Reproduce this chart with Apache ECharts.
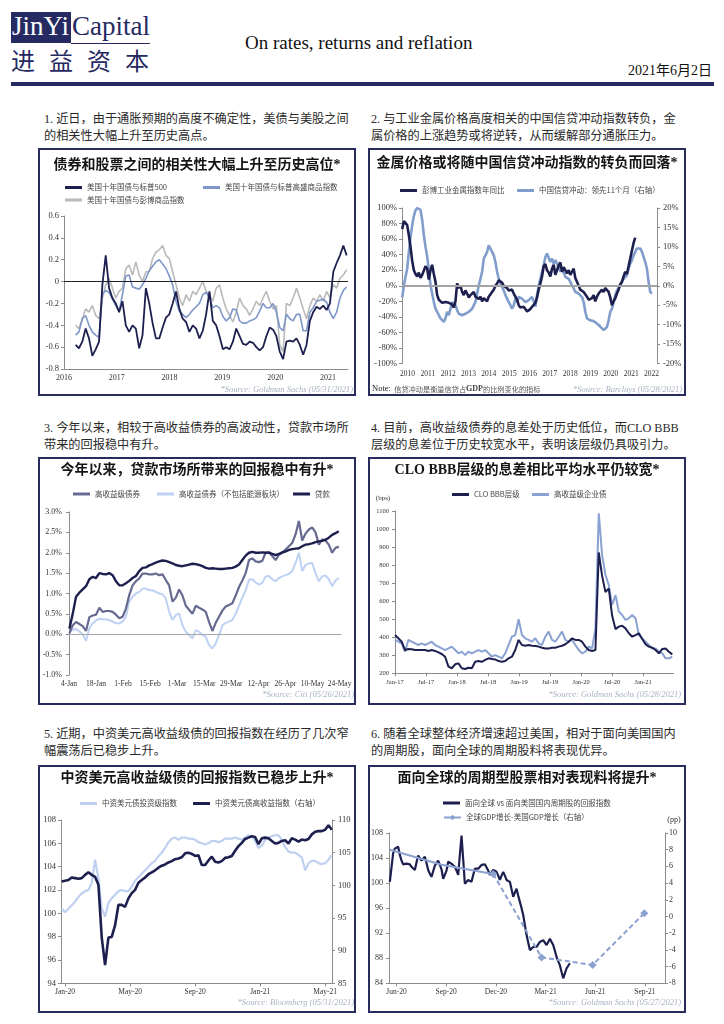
<!DOCTYPE html>
<html><head><meta charset="utf-8">
<script src="https://cdn.jsdelivr.net/npm/echarts@6/dist/echarts.min.js"></script>
<style>
html,body{margin:0;padding:0;background:#fff;}
body{width:724px;height:1024px;position:relative;overflow:hidden;font-family:"Liberation Serif","Noto Sans CJK SC",serif;}
.panel{position:absolute;border:2px solid #272b5e;box-sizing:border-box;background:#fff;width:318px;height:248px;}
.cap{position:absolute;font-size:12.2px;line-height:16.5px;color:#2a2a2a;white-space:nowrap;font-family:"Liberation Serif","Noto Sans CJK SC",serif;}
#chart{position:absolute;left:0;top:0;width:724px;height:1024px;z-index:2;}
</style></head><body>
<div style="position:absolute;left:11px;top:12px;width:60px;height:31px;background:#262a62;"></div>
<div style="position:absolute;left:12px;top:9px;font-size:27px;line-height:34px;color:#fff;font-family:'Liberation Serif';">JinYi</div>
<div style="position:absolute;left:72px;top:9px;font-size:27px;line-height:34px;color:#262a62;font-family:'Liberation Serif';">Capital</div>
<div style="position:absolute;left:71px;top:43px;width:79px;height:1px;background:#262a62;"></div>
<div style="position:absolute;left:11px;top:46px;font-size:24px;line-height:28px;color:#262a62;letter-spacing:14px;font-family:'Noto Sans CJK SC';">进益资本</div>
<div style="position:absolute;left:11px;top:82px;width:703px;height:4px;background:#262a62;"></div>
<div style="position:absolute;left:245px;top:31px;font-size:19px;line-height:24px;color:#111;font-family:'Liberation Serif';">On rates, returns and reflation</div>
<div style="position:absolute;right:12px;top:63px;font-size:14px;line-height:16px;color:#111;font-family:'Liberation Serif','Noto Sans CJK SC';">2021年6月2日</div>

<div class="cap" style="left:44px;top:111px">1. 近日，由于通胀预期的高度不确定性，美债与美股之间<br>的相关性大幅上升至历史高点。</div>
<div class="cap" style="left:371px;top:111px">2. 与工业金属价格高度相关的中国信贷冲动指数转负，金<br>属价格的上涨趋势或将逆转，从而缓解部分通胀压力。</div>
<div class="cap" style="left:44px;top:420px">3. 今年以来，相较于高收益债券的高波动性，贷款市场所<br>带来的回报稳中有升。</div>
<div class="cap" style="left:371px;top:420px">4. 目前，高收益级债券的息差处于历史低位，而CLO BBB<br>层级的息差位于历史较宽水平，表明该层级仍具吸引力。</div>
<div class="cap" style="left:44px;top:726px">5. 近期，中资美元高收益级债的回报指数在经历了几次窄<br>幅震荡后已稳步上升。</div>
<div class="cap" style="left:371px;top:726px">6. 随着全球整体经济增速超过美国，相对于面向美国国内<br>的周期股，面向全球的周期股料将表现优异。</div>

<div class="panel" style="left:38px;top:148px"></div>
<div class="panel" style="left:368px;top:148px"></div>
<div class="panel" style="left:38px;top:457px"></div>
<div class="panel" style="left:368px;top:457px"></div>
<div class="panel" style="left:38px;top:765px"></div>
<div class="panel" style="left:368px;top:765px"></div>
<div id="chart"></div>
<script>
// ---------- DATA ----------
// Chart 1: correlation (2016.22 .. 2021.355, evenly spaced)
const c1Spx = [-0.58,-0.61,-0.55,-0.43,-0.52,-0.68,-0.62,-0.55,-0.03,0.24,
 -0.06,-0.15,-0.20,-0.28,-0.18,-0.40,-0.46,-0.40,-0.43,-0.61,
 -0.49,-0.06,-0.20,-0.38,-0.52,-0.52,-0.42,-0.33,-0.30,-0.20,
 -0.09,-0.25,-0.34,-0.37,-0.46,-0.40,-0.43,-0.52,-0.45,-0.30,
 -0.09,-0.36,-0.40,-0.50,-0.62,-0.60,-0.62,-0.55,-0.43,-0.50,
 -0.57,-0.58,-0.55,-0.56,-0.60,-0.63,-0.60,-0.50,-0.42,-0.44,
 -0.50,-0.64,-0.71,-0.55,-0.54,-0.55,-0.52,-0.58,-0.67,-0.58,
 -0.36,-0.28,-0.23,-0.25,-0.22,-0.26,-0.20,0.09,0.17,0.24,
 0.33,0.24];
const c1Gsci = [-0.49,-0.46,-0.34,-0.31,-0.40,-0.46,-0.49,-0.51,-0.12,-0.08,
 -0.10,-0.16,-0.22,-0.27,-0.12,0.05,0.06,-0.05,-0.06,-0.07,
 -0.03,0.03,0.10,0.14,0.18,0.20,0.16,0.12,0.05,-0.03,
 -0.18,-0.27,-0.30,-0.33,-0.30,-0.26,-0.23,-0.20,-0.12,-0.10,
 -0.15,-0.24,-0.22,-0.24,-0.32,-0.36,-0.33,-0.25,-0.26,-0.36,
 -0.38,-0.38,-0.36,-0.35,-0.33,-0.27,-0.20,-0.24,-0.24,-0.20,
 -0.28,-0.42,-0.45,-0.30,-0.34,-0.36,-0.30,-0.30,-0.45,-0.45,
 -0.28,-0.24,-0.18,-0.17,-0.16,-0.19,-0.28,-0.34,-0.28,-0.15,
 -0.08,-0.05];
const c1Bcom = [-0.40,-0.43,-0.34,-0.25,-0.28,-0.22,-0.31,-0.34,-0.15,-0.03,
 0.03,-0.06,-0.15,-0.09,-0.06,0.12,0.15,0.06,0.18,0.06,
 0.00,0.09,0.09,0.21,0.27,0.29,0.33,0.24,0.21,0.09,
 -0.03,-0.15,-0.22,-0.12,-0.18,-0.09,-0.12,-0.06,0.00,-0.09,
 -0.12,-0.18,-0.06,-0.03,-0.15,-0.25,-0.31,-0.37,-0.28,-0.15,
 -0.22,-0.25,-0.31,-0.25,-0.18,-0.22,-0.15,-0.09,-0.18,-0.25,
 -0.22,-0.58,-0.64,-0.20,-0.22,-0.15,-0.06,-0.15,-0.25,-0.34,
 -0.22,-0.15,-0.18,-0.12,-0.18,-0.09,-0.15,-0.03,-0.06,0.03,
 0.06,0.11];
const c1Span = [2016.22, 2021.355];

// Chart 2: metals YoY (%) 2009.74..2021.20 ; credit impulse (%) 2009.74..2022.02
const c2Metals = [73,83,81,78,65,50,32,20,15,12,
 17,10,14,12,25,22,8,20,27,15,
 5,-12,-18,-17,-22,-20,-21,-23,-22,-20,
 -24,-28,-20,3,-3,0,-8,-12,-6,-10,
 -15,-12,-10,-8,-14,-12,-17,-14,-20,-16,
 -18,-20,-14,-12,-8,-5,0,3,7,6,
 4,0,1,-3,-6,-8,-5,-10,-14,-18,
 -25,-28,-30,-27,-30,-33,-35,-30,-27,-25,
 -22,-15,-5,3,12,25,28,20,17,12,
 22,27,14,20,26,30,18,24,22,16,
 20,14,18,22,10,5,0,-5,-3,-8,
 -10,-14,-18,-20,-16,-12,-20,-14,-10,-12,
 -5,-8,-3,-2,-8,-15,-25,-20,-16,-10,
 -5,2,5,12,18,15,25,35,45,55,
 62];
const c2Credit = [-3,0,2.3,4.4,8.7,12.5,15.5,18,19.4,20,
 20,19.5,17,13,10,7.5,4,0.1,-2,-4.2,
 -5.9,-6.7,-7.6,-8.4,-8.9,-9.3,-8.4,-6.7,-7.6,-5.9,
 -4.2,-4.5,-5,-6.3,-7.2,-7.4,-7.6,-7.4,-7.2,-7,
 -6.7,-6.3,-5.9,-5,-4.2,-2,0.1,1.8,3.6,7,
 7.8,8.7,10.4,10.8,8.7,7.8,6.1,3.6,1.8,0.6,
 0.1,-1.2,-2.4,-3.3,-4.2,-5,-5.9,-5,-3.3,-4.2,
 -2.9,-3.1,-3.3,-3.8,-4.2,-4,-3.7,-3.3,-2.9,-4,
 -5.4,-2.4,0.1,1.8,3.6,5.3,7.4,8.3,7.8,6.1,
 7,5.7,6.6,7,4.8,3.6,4.4,4,2.3,2,
 1.8,1,0.1,-0.7,-1.6,-1.8,-2,-2.4,-2.9,-4.2,
 -6.7,-8.4,-8.9,-8.9,-8.9,-9.1,-9.3,-9.7,-10.1,-10.5,
 -11,-11.4,-11.4,-10.6,-8.9,-6.7,-5.9,-4.2,-2.4,-1.2,
 -0.7,0.1,1,1.8,2.3,2.7,4.4,5.7,6.6,7.8,
 8.7,9.6,10,9.6,8.7,7.4,6.1,4.4,1,-1.6,
 -2];
const c2MetalSpan = [2009.74, 2021.2];
const c2CreditSpan = [2009.74, 2022.02];
const c2Years = [2010,2011,2012,2013,2014,2015,2016,2017,2018,2019,2020,2021,2022];

// Chart 3: YTD returns (%), day offset from 4-Jan (0.2 .. 139.6)
const c3Labels = ['4-Jan','18-Jan','1-Feb','15-Feb','1-Mar','15-Mar','29-Mar','12-Apr','26-Apr','10-May','24-May'];
const c3HY = [0.02,0.22,0.30,0.25,0.20,0.08,0.42,0.46,0.48,0.65,
 0.55,0.57,0.57,0.55,0.48,0.39,0.43,0.63,0.96,1.20,
 1.30,1.37,1.49,1.49,1.47,1.47,1.49,1.45,1.47,1.33,
 1.20,0.80,0.90,1.10,0.95,0.70,0.60,0.50,0.70,0.65,
 0.61,0.55,0.30,0.08,0.28,0.43,0.58,0.68,0.72,0.76,
 0.95,1.16,1.32,1.50,1.82,1.86,1.79,1.77,1.80,2.00,
 2.00,1.92,1.82,1.95,2.00,2.08,2.16,2.24,2.45,2.78,
 2.30,2.47,2.57,2.62,2.50,2.20,2.33,2.30,2.20,2.00,
 2.12,2.15];
const c3HYexE = [0.06,0.11,0.13,0.07,0.00,-0.16,0.14,0.27,0.34,0.38,
 0.37,0.36,0.35,0.31,0.27,0.27,0.31,0.43,0.80,0.92,
 1.00,1.04,1.12,1.12,1.08,1.08,1.04,1.00,0.98,0.88,
 0.55,0.35,0.47,0.51,0.22,0.06,-0.02,-0.10,0.10,0.06,
 -0.02,-0.06,-0.27,-0.35,-0.22,-0.02,0.22,0.28,0.31,0.35,
 0.50,0.70,0.90,1.08,1.34,1.35,1.27,1.22,1.26,1.42,
 1.43,1.35,1.30,1.38,1.42,1.45,1.48,1.55,1.75,2.00,
 1.55,1.70,1.74,1.75,1.50,1.30,1.42,1.44,1.35,1.18,
 1.32,1.38];
const c3Loans = [0.14,0.50,0.92,1.02,1.10,1.18,1.35,1.41,1.38,1.50,
 1.48,1.47,1.50,1.45,1.30,1.20,1.20,1.25,1.31,1.38,
 1.43,1.55,1.63,1.64,1.69,1.72,1.76,1.79,1.81,1.80,
 1.77,1.74,1.70,1.68,1.67,1.69,1.71,1.73,1.72,1.70,
 1.67,1.63,1.61,1.62,1.61,1.60,1.60,1.61,1.62,1.63,
 1.66,1.71,1.82,1.93,2.00,2.02,2.00,2.00,2.01,2.00,
 2.01,1.97,1.94,1.97,2.01,2.03,2.07,2.09,2.10,2.11,
 2.16,2.20,2.21,2.23,2.26,2.28,2.29,2.32,2.37,2.44,
 2.48,2.53];
const c3Span = [0.2, 139.6];

// Chart 4: spreads (bps), 2017.00 .. 2021.47
const c4Clo = [412,394,375,329,335,333,329,329,329,329,
 324,329,324,316,307,292,237,228,250,255,
 228,224,231,228,264,268,264,274,283,279,
 277,268,264,268,283,292,329,385,357,353,
 357,353,351,348,342,338,338,342,342,348,
 353,361,375,394,385,385,375,348,329,324,
 329,870,740,650,670,520,445,459,464,449,
 422,403,412,422,390,361,348,342,329,311,
 335,338,320,305];
const c4Hy = [385,375,366,320,385,375,366,357,366,357,
 366,375,357,348,338,329,338,348,329,311,
 320,301,320,311,320,329,320,329,311,292,
 301,292,283,311,357,403,412,500,412,394,
 385,375,394,366,357,403,431,385,375,403,
 431,385,375,385,357,329,311,320,348,338,
 449,1087,856,745,690,579,634,542,523,496,
 505,523,505,412,394,375,357,338,338,320,
 311,283,283,292];
const c4Span = [2017.0, 2021.47];

// Chart 5: index levels, months from Jan-20 (-0.205 .. 16.41)
const c5Labels = ['Jan-20','May-20','Sep-20','Jan-21','May-21'];
const c5IG = [100.4,100.1,100.4,100.7,101.0,101.4,101.7,101.9,102.0,102.6,
 104.6,103.0,100.4,99.7,100.9,101.3,101.6,101.9,102.0,101.9,
 101.9,102.3,102.8,103.1,103.4,103.7,104.0,104.3,104.5,104.9,
 105.2,105.6,106.1,106.4,106.5,106.3,106.5,106.5,106.4,106.4,
 106.3,106.1,106.0,105.9,106.0,106.2,106.2,106.1,106.2,106.4,
 106.4,106.4,106.5,106.4,106.3,106.5,106.7,106.6,106.2,105.6,
 105.8,106.3,106.5,106.6,106.7,106.7,106.3,105.7,105.3,105.2,
 105.2,105.0,104.8,103.7,104.3,104.5,104.5,104.3,104.2,104.3,
 104.6,105.0];
const c5HYld = [100.6,100.7,100.8,101.2,101.1,101.0,101.1,101.6,102.0,101.6,
 101.3,100.1,92.0,87.8,92.0,92.1,93.9,97.0,97.0,96.7,
 98.0,98.8,99.3,100.4,100.8,101.2,101.7,102.0,102.3,102.7,
 103.0,103.2,103.5,103.7,104.0,104.1,104.3,104.9,105.0,104.8,
 104.5,104.6,103.1,103.1,103.8,104.4,103.6,103.5,103.7,104.2,
 104.3,104.5,105.3,106.0,106.5,107.1,107.3,107.5,107.4,106.3,
 107.2,107.3,107.2,106.8,106.4,106.5,106.8,106.9,106.4,107.2,
 107.0,106.7,107.0,106.9,107.1,107.8,108.2,108.3,108.3,108.5,
 109.2,108.5];
const c5Span = [-0.205, 16.41];

// Chart 6: relative return index, months from Jun-20 (-0.40 .. 10.47); GDP gap (pp)
const c6Labels = ['Jun-20','Sep-20','Dec-20','Mar-21','Jun-21','Sep-21'];
const c6Rel = [100.2,102.5,104.8,105.5,105.6,105.8,104.5,103.6,103.0,102.8,
 103.1,103.4,103.0,102.6,102.3,102.1,103.3,104.4,104.0,103.6,
 103.9,104.2,103.2,102.1,101.5,101.0,101.9,102.8,103.2,103.6,
 103.9,102.2,100.7,100.5,102.0,103.4,103.2,103.1,102.8,102.6,
 102.0,101.3,104.5,107.6,103.8,99.9,100.2,100.5,100.4,100.2,
 101.3,102.3,102.3,102.3,102.6,102.9,103.1,103.0,102.8,102.0,
 101.3,101.7,102.1,102.0,101.8,101.2,100.5,101.2,101.8,101.2,
 100.5,100.4,100.2,99.0,97.8,98.5,99.1,98.0,97.0,96.0,
 94.9,93.3,91.7,90.5,89.3,89.5,89.8,89.8,89.8,90.2,
 90.6,90.8,90.9,90.5,90.1,90.6,91.1,90.6,90.1,89.2,
 88.2,87.5,86.9,85.8,84.8,85.6,86.4,86.8,87.2];
const c6RelSpan = [-0.40, 10.47];
const c6GdpMonths = [-0.4, 2.72, 5.84, 8.76, 11.84, 14.96];
const c6Gdp = [8.0, 6.2, 5.1, -4.9, -5.8, 0.4];

// ---------- BUILD ----------
function even(span, vals){ const n = vals.length; return vals.map((v,i)=>[span[0] + (span[1]-span[0])*i/(n-1), v]); }
function pairs(xs, ys){ return ys.map((v,i)=>[xs[i], v]); }

const NAVY = '#1d1f4f';
const SERIF = 'Liberation Serif';
const CJK = 'Noto Sans CJK SC';
const AX = '#8c8c8c';
function lab(size, margin, extra){ return Object.assign({fontFamily:SERIF, fontSize:size, color:'#333', margin:margin}, extra||{}); }
function vAxis(o){
  return Object.assign({type:'value', splitLine:{show:false},
    axisLine:{show:true, onZero:false, lineStyle:{color:AX, width:1}},
    axisTick:{show:true, length:3, lineStyle:{color:AX}}}, o);
}
const noLine = {show:false};

const xAxis = [
  vAxis({gridIndex:0, min:2016, max:2021.38, interval:1, axisTick:{show:false},
    axisLabel:lab(8,5,{showMaxLabel:false, formatter:v=>Number.isInteger(v)?String(v):''})}),
  vAxis({gridIndex:1, min:2009.73, max:2022.27, axisLine:noLine, axisTick:{show:false},
    axisLabel:lab(7.5,7,{customValues:c2Years, formatter:v=>String(v)})}),
  vAxis({gridIndex:2, min:0, max:141, interval:14, axisLine:noLine, axisTick:{show:false},
    axisLabel:lab(7.5,5,{showMaxLabel:false, formatter:v=> (v%14===0 && c3Labels[v/14]) ? c3Labels[v/14] : ''})}),
  vAxis({gridIndex:3, min:2017, max:2021.49, interval:0.5,
    axisLabel:lab(6.5,5,{showMaxLabel:false, formatter:v=>{
      if (Math.abs(v*2-Math.round(v*2))>1e-6) return '';
      const y=Math.floor(v+1e-6); return ((v-y)>0.25?'Jul-':'Jan-')+String(y).slice(2);}})}),
  vAxis({gridIndex:4, min:-0.25, max:16.42, axisTick:{show:true, length:3, customValues:[0,4,8,12,16], lineStyle:{color:AX}},
    axisLabel:lab(7.5,5,{customValues:[0,4,8,12,16], formatter:v=>c5Labels[Math.round(v/4)]})}),
  vAxis({gridIndex:5, min:-0.45, max:16.21, axisTick:{show:true, length:3, customValues:[0,3,6,9,12,15], lineStyle:{color:AX}},
    axisLabel:lab(7.5,5,{customValues:[0,3,6,9,12,15], formatter:v=>c6Labels[Math.round(v/3)]})})
];
const plain = v => String(v);
const yAxis = [
  vAxis({gridIndex:0, min:-0.8, max:0.6, interval:0.2, axisLabel:lab(8.5,5,{formatter:v=>Math.abs(v)<1e-9?'0':String(+v.toFixed(1))})}),
  vAxis({gridIndex:1, min:-100, max:100, interval:20, axisLabel:lab(8.5,5,{formatter:'{value}%'})}),
  vAxis({gridIndex:1, position:'right', min:-20, max:20, interval:5, axisLabel:lab(8.5,6,{formatter:'{value}%'})}),
  vAxis({gridIndex:2, min:-1, max:3, interval:0.5, axisLabel:lab(8,7,{formatter:v=>v.toFixed(1)+'%'})}),
  vAxis({gridIndex:3, min:200, max:1100, interval:100, axisLabel:lab(6.5,6,{formatter:plain})}),
  vAxis({gridIndex:4, min:94, max:108, interval:2, axisLabel:lab(8.5,5,{formatter:plain})}),
  vAxis({gridIndex:4, position:'right', min:85, max:110, interval:5, axisLabel:lab(8.5,6,{formatter:plain})}),
  vAxis({gridIndex:5, min:84, max:108, interval:4, axisLabel:lab(8,6,{formatter:plain})}),
  vAxis({gridIndex:5, position:'right', min:-8, max:10, interval:2, axisLabel:lab(8,4,{formatter:plain})})
];
const grid = [
  {left:64, top:216, width:284, height:153},
  {left:402, top:208, width:255, height:155.5},
  {left:69, top:512, width:272.5, height:163},
  {left:395, top:511, width:278.5, height:162.3},
  {left:61, top:820, width:271, height:163.3},
  {left:389, top:833, width:276, height:150.3}
];
function zero(color, width){ return {silent:true, symbol:'none', animation:false, label:{show:false}, lineStyle:{color:color, width:width, type:'solid'}, data:[{yAxis:0}]}; }
function line(name, xi, yi, data, color, width, extra){
  return Object.assign({name:name, type:'line', xAxisIndex:xi, yAxisIndex:yi, data:data, symbol:'none', color:color,
    lineStyle:{color:color, width:width}, itemStyle:{color:color}}, extra||{});
}
const N1='美国十年国债与标普500', N2='美国十年国债与标普高盛商品指数', N3='美国十年国债与彭博商品指数';
const M1='彭博工业金属指数年同比', M2='中国信贷冲动：领先11个月（右轴）';
const L1='高收益级债券', L2='高收益债券（不包括能源板块）', L3='贷款';
const K1='CLO BBB层级', K2='高收益级企业债';
const B1='中资美元债投资级指数', B2='中资美元债高收益指数（右轴）';
const G1='面向全球 vs 面向美国国内周期股的回报指数', G2='全球GDP增长-美国GDP增长（右轴）';
const GDPC='#8ca1cf';
const series = [
  line(N3,0,0,even(c1Span,c1Bcom),'#bababa',1.6),
  line(N2,0,0,even(c1Span,c1Gsci),'#7e97c8',1.6),
  line(N1,0,0,even(c1Span,c1Spx),NAVY,1.8,{markLine:zero('#222',1)}),
  line(M2,1,2,even(c2CreditSpan,c2Credit),'#809dcc',2.6,{markLine:zero('#a3a3a3',2)}),
  line(M1,1,1,even(c2MetalSpan,c2Metals),NAVY,2.6),
  line(L2,2,3,even(c3Span,c3HYexE),'#bfd1f2',2,{markLine:zero('#a8a8a8',1)}),
  line(L1,2,3,even(c3Span,c3HY),'#676a91',2.2),
  line(L3,2,3,even(c3Span,c3Loans),NAVY,2.4),
  line(K2,3,4,even(c4Span,c4Hy),'#8aa2d2',2),
  line(K1,3,4,even(c4Span,c4Clo),NAVY,2),
  line(B1,4,5,even(c5Span,c5IG),'#bfd0f0',2.2),
  line(B2,4,6,even(c5Span,c5HYld),NAVY,2.6),
  line(G1,5,7,even(c6RelSpan,c6Rel),NAVY,2.2),
  line('gdpActual',5,8,pairs(c6GdpMonths,c6Gdp).slice(0,3),GDPC,2),
  line(G2,5,8,pairs(c6GdpMonths,c6Gdp).slice(2),GDPC,2,{symbol:'diamond', symbolSize:8, showSymbol:true,
    lineStyle:{color:GDPC, width:2, type:[5,3]}})
];
function lg(name, x, y, extra){
  return Object.assign({data:[name], left:x, top:y-5, orient:'horizontal', padding:0, itemWidth:17, itemHeight:3, icon:'rect',
    selectedMode:false, textStyle:{fontFamily:CJK, fontSize:7.5, color:'#444', lineHeight:10}}, extra||{});
}
const legend = [
  lg(N1,65,187.5), lg(N2,203,187.5), lg(N3,65,200),
  lg(M1,400,190.5), lg(M2,517,190.5),
  lg(L1,73,494), lg(L2,157,494), lg(L3,293,494),
  lg(K1,452,494.5), lg(K2,532,494.5),
  lg(B1,80,803.5), lg(B2,193,803.5),
  lg(G1,443,803), lg(G2,443,817.5,{icon:null, itemHeight:7, lineStyle:{type:'solid', width:2}})
];
function txt(x, y, text, st){
  return {type:'text', x:x, y:y, silent:true, z:100, style:Object.assign({text:text, align:'center', verticalAlign:'middle', fill:'#111'}, st||{})};
}
const TT = {fontFamily:'"Liberation Serif","Noto Sans CJK SC"', fontSize:14, fontWeight:'bold', fill:'#151515'};
const SRC = {fontFamily:SERIF, fontSize:8.5, fontStyle:'italic', fill:'#a9b1c4', align:'right'};
const graphic = [
  txt(197,165,'债券和股票之间的相关性大幅上升至历史高位*',TT),
  txt(527,163.5,'金属价格或将随中国信贷冲动指数的转负而回落*',TT),
  txt(197,470,'今年以来，贷款市场所带来的回报稳中有升*',TT),
  txt(527,470,'CLO BBB层级的息差相比平均水平仍较宽*',TT),
  txt(197,778,'中资美元高收益级债的回报指数已稳步上升*',TT),
  txt(527,778,'面向全球的周期型股票相对表现料将提升*',TT),
  txt(353,390,'*Source: Goldman Sachs (05/31/2021)',SRC),
  txt(682,390,'*Source: Barclays (05/28/2021)',SRC),
  txt(354,695,'*Source: Citi (05/26/2021)',SRC),
  txt(681,695,'*Source: Goldman Sachs (05/28/2021)',SRC),
  txt(354,1003,'*Source: Bloomberg (05/31/2021)',SRC),
  txt(681,1003,'*Source: Goldman Sachs (05/27/2021)',SRC),
  {type:'text', x:372, y:389, silent:true, z:100, style:{text:'{n|Note:} {c|信贷冲动是衡量信贷占}{g|GDP}{c|的比例变化的指标}', verticalAlign:'middle', align:'left',
    rich:{n:{fontFamily:SERIF, fontSize:8.5, fill:'#222'}, g:{fontFamily:SERIF, fontSize:8, fontWeight:'bold', fill:'#444'}, c:{fontFamily:CJK, fontSize:7.2, fill:'#555'}}}},
  txt(383,498,'(bps)',{fontFamily:SERIF, fontSize:7, fill:'#333'}),
  txt(674,820,'(pp)',{fontFamily:SERIF, fontSize:8, fill:'#333'})
];
const chart = echarts.init(document.getElementById('chart'), null, {renderer:'canvas', width:724, height:1024});
chart.setOption({animation:false, backgroundColor:'transparent', grid:grid, xAxis:xAxis, yAxis:yAxis, series:series, legend:legend, graphic:graphic});
</script>
</body></html>
